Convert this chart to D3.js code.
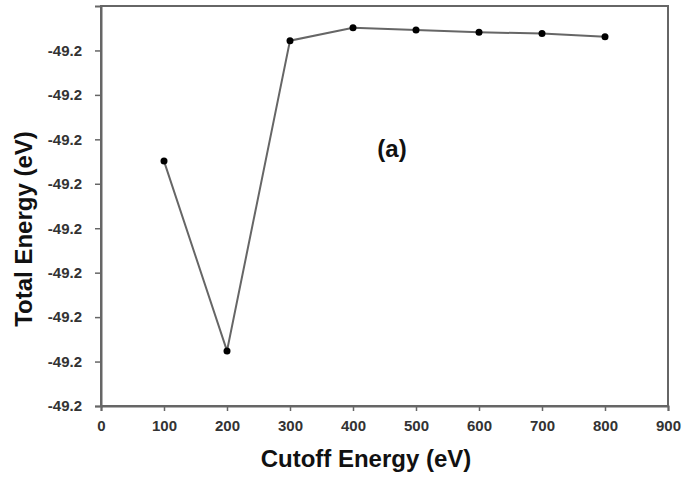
<!DOCTYPE html>
<html>
<head>
<meta charset="utf-8">
<script src="https://cdn.jsdelivr.net/npm/d3@7"></script>
<style>
  body { margin: 0; background: #fff; overflow: hidden; }
  svg { display: block; }
  text { font-family: "Liberation Sans", Arial, sans-serif; }
</style>
</head>
<body>
<script>
// canvas size
var width = 684
var height = 477

// data
const cutoff = [100, 200, 300, 400, 500, 600, 700, 800]
const energy = [-49.1849, -49.2276, -49.1578, -49.1549, -49.1554, -49.1559, -49.1562, -49.1569]
const xTicks = [0, 100, 200, 300, 400, 500, 600, 700, 800, 900]
const yTicks = [-49.24, -49.23, -49.22, -49.21, -49.20, -49.19, -49.18, -49.17, -49.16]

const data = cutoff.map((c, i) => ({ cutoff: c, energy: energy[i] }))

const margin = { top: 6, right: 16, bottom: 71, left: 101 }
const innerWidth = width - margin.left - margin.right
const innerHeight = height - margin.top - margin.bottom

const svg = d3.select('body')
    .append('svg')
    .attr('width', width)
    .attr('height', height)

const g = svg.append('g')
    .attr('transform', 'translate(' + margin.left + ',' + margin.top + ')')

const xScale = d3.scaleLinear().domain([0, 900]).range([0, innerWidth])
const yScale = d3.scaleLinear().domain([-49.24, -49.15]).range([innerHeight, 0])

//frame
g.append('rect')
    .attr('x', 0).attr('y', 0)
    .attr('width', innerWidth).attr('height', innerHeight)
    .attr('fill', 'none')
    .attr('stroke', '#666')
    .attr('stroke-width', 2)

//axes - plain hyphen for the minus like the original
const yFormat = d => d3.format('.1f')(d).replace('\u2212', '-')
const xAxis = g.append('g')
    .attr('transform', 'translate(0,' + innerHeight + ')')
    .call(d3.axisBottom(xScale).tickValues(xTicks).tickSize(5).tickPadding(9).tickFormat(d3.format('d')))
const yAxis = g.append('g')
    .call(d3.axisLeft(yScale).tickValues(yTicks).tickSize(6).tickPadding(13).tickFormat(yFormat))

;[xAxis, yAxis].forEach(a => {
    a.select('.domain').attr('stroke', '#666').attr('stroke-width', 2)
    a.selectAll('.tick line').attr('stroke', '#666').attr('stroke-width', 1.5)
    a.selectAll('.tick text')
        .attr('fill', '#333')
        .attr('font-size', 15)
        .attr('font-weight', 'bold')
        .attr('font-family', '"Liberation Sans", Arial, sans-serif')
})

//line
const line = d3.line()
    .x(d => xScale(d.cutoff))
    .y(d => yScale(d.energy))

g.append('path')
    .datum(data)
    .attr('d', line)
    .attr('fill', 'none')
    .attr('stroke', '#666')
    .attr('stroke-width', 2)

g.selectAll('circle')
    .data(data)
    .enter()
    .append('circle')
    .attr('cx', d => xScale(d.cutoff))
    .attr('cy', d => yScale(d.energy))
    .attr('r', 3.5)
    .attr('fill', '#000')

//labels
svg.append('text')
    .attr('x', 366)
    .attr('y', 467)
    .attr('text-anchor', 'middle')
    .attr('font-size', 24)
    .attr('font-weight', 'bold')
    .attr('fill', '#111')
    .text('Cutoff Energy (eV)')

svg.append('text')
    .attr('transform', 'translate(32,229) rotate(-90)')
    .attr('text-anchor', 'middle')
    .attr('font-size', 24)
    .attr('font-weight', 'bold')
    .attr('fill', '#111')
    .text('Total Energy (eV)')

svg.append('text')
    .attr('x', 392)
    .attr('y', 157)
    .attr('text-anchor', 'middle')
    .attr('font-size', 24)
    .attr('font-weight', 'bold')
    .attr('fill', '#111')
    .text('(a)')
</script>
</body>
</html>
